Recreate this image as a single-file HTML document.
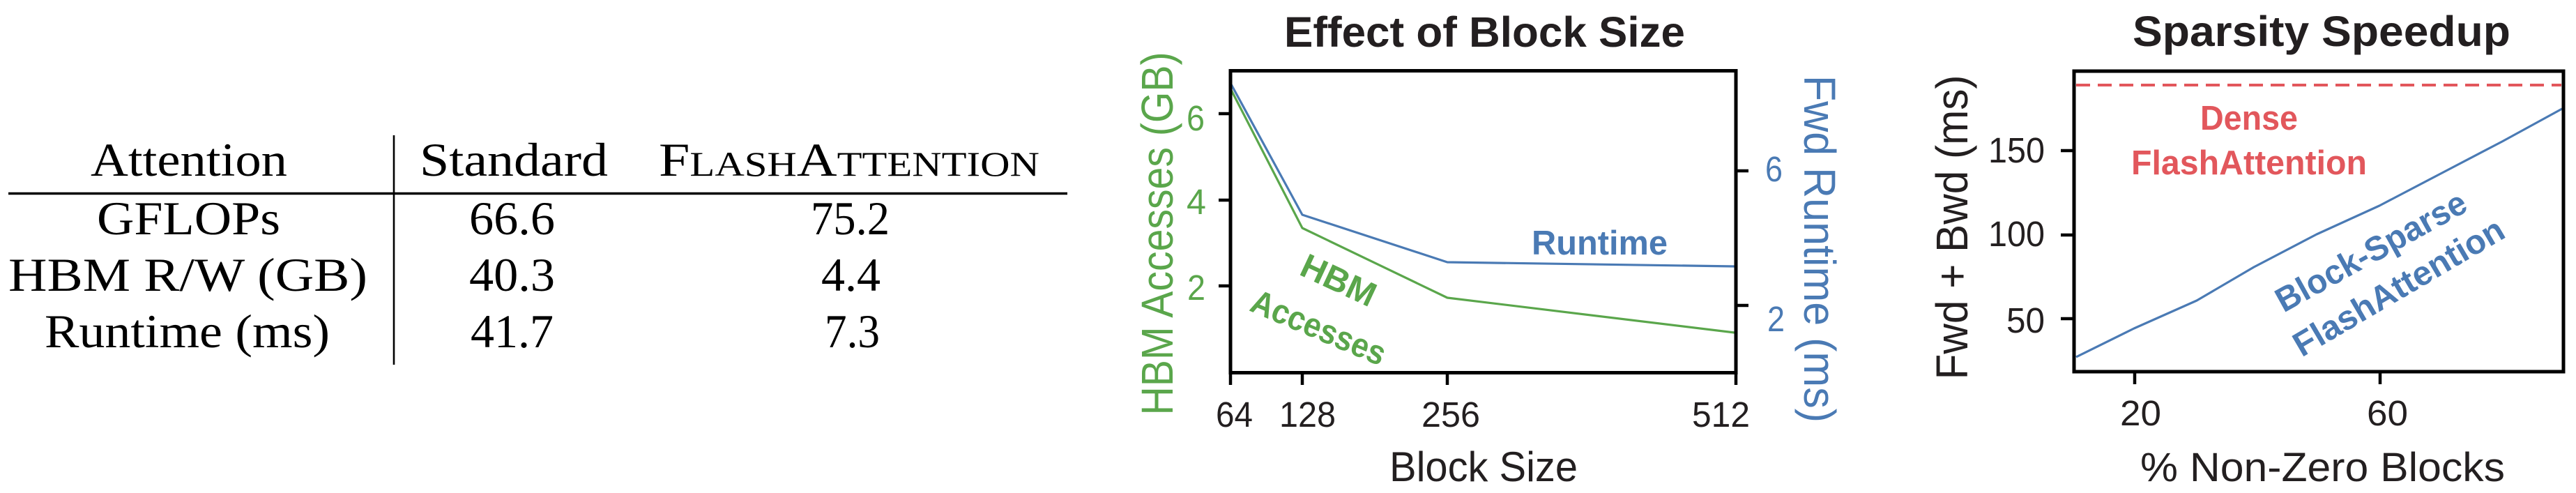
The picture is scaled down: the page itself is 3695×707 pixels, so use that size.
<!DOCTYPE html>
<html>
<head>
<meta charset="utf-8">
<style>
html,body{margin:0;padding:0;background:#fff;}
svg{display:block;}
.serif{font-family:"Liberation Serif","DejaVu Serif",serif;fill:#000;}
.sans{font-family:"Liberation Sans","DejaVu Sans",sans-serif;}
</style>
</head>
<body>
<svg width="3695" height="707" viewBox="0 0 3695 707" xmlns="http://www.w3.org/2000/svg">
<rect x="0" y="0" width="3695" height="707" fill="#fff"/>

<!-- ===== TABLE ===== -->
<g class="serif" font-size="68">
  <text x="130" y="252" textLength="282" lengthAdjust="spacingAndGlyphs">Attention</text>
  <text x="602" y="252" textLength="270" lengthAdjust="spacingAndGlyphs">Standard</text>
  <text x="945" y="252" textLength="546" lengthAdjust="spacingAndGlyphs">F<tspan font-size="50">LASH</tspan>A<tspan font-size="50">TTENTION</tspan></text>

  <text x="139" y="336" textLength="263" lengthAdjust="spacingAndGlyphs">GFLOPs</text>
  <text x="12" y="417" textLength="515" lengthAdjust="spacingAndGlyphs">HBM R/W (GB)</text>
  <text x="64" y="498" textLength="409" lengthAdjust="spacingAndGlyphs">Runtime (ms)</text>

  <text x="673" y="336" textLength="123" lengthAdjust="spacingAndGlyphs">66.6</text>
  <text x="673" y="417" textLength="123" lengthAdjust="spacingAndGlyphs">40.3</text>
  <text x="675" y="498" textLength="119" lengthAdjust="spacingAndGlyphs">41.7</text>

  <text x="1163" y="336" textLength="113" lengthAdjust="spacingAndGlyphs">75.2</text>
  <text x="1178" y="417" textLength="85" lengthAdjust="spacingAndGlyphs">4.4</text>
  <text x="1183" y="498" textLength="79" lengthAdjust="spacingAndGlyphs">7.3</text>
</g>
<line x1="12" y1="277.5" x2="1531" y2="277.5" stroke="#000" stroke-width="3.4"/>
<line x1="565" y1="194" x2="565" y2="523" stroke="#000" stroke-width="2.6"/>

<!-- ===== MIDDLE CHART: Effect of Block Size ===== -->
<g class="sans">
  <text x="1842" y="67" font-size="61" font-weight="bold" fill="#231f20" textLength="575" lengthAdjust="spacingAndGlyphs">Effect of Block Size</text>

  <polyline points="1766,129 1868,327 2076,427 2488,477" fill="none" stroke="#5aa64b" stroke-width="3.2" stroke-linejoin="round"/>
  <polyline points="1766,121 1868,308 2076,376 2488,382" fill="none" stroke="#4a7ab4" stroke-width="3.2" stroke-linejoin="round"/>

  <rect x="1765" y="101.5" width="725" height="433" fill="none" stroke="#000" stroke-width="5"/>
  <g stroke="#000" stroke-width="4.5">
    <line x1="1748" y1="163" x2="1765" y2="163"/>
    <line x1="1748" y1="287" x2="1765" y2="287"/>
    <line x1="1748" y1="410" x2="1765" y2="410"/>
    <line x1="2490" y1="245" x2="2508" y2="245"/>
    <line x1="2490" y1="438" x2="2508" y2="438"/>
    <line x1="1765" y1="534" x2="1765" y2="552"/>
    <line x1="1868" y1="534" x2="1868" y2="552"/>
    <line x1="2076" y1="534" x2="2076" y2="552"/>
    <line x1="2490" y1="534" x2="2490" y2="552"/>
  </g>
  <g font-size="51" fill="#5aa64b">
    <text x="1702" y="187" textLength="26" lengthAdjust="spacingAndGlyphs">6</text>
    <text x="1702" y="307" textLength="28" lengthAdjust="spacingAndGlyphs">4</text>
    <text x="1703" y="430" textLength="26" lengthAdjust="spacingAndGlyphs">2</text>
  </g>
  <g font-size="51" fill="#4a7ab4">
    <text x="2532" y="260" textLength="25" lengthAdjust="spacingAndGlyphs">6</text>
    <text x="2535" y="475" textLength="25" lengthAdjust="spacingAndGlyphs">2</text>
  </g>
  <g font-size="51" fill="#231f20">
    <text x="1744" y="612" textLength="53" lengthAdjust="spacingAndGlyphs">64</text>
    <text x="1835" y="612" textLength="81" lengthAdjust="spacingAndGlyphs">128</text>
    <text x="2039" y="612" textLength="84" lengthAdjust="spacingAndGlyphs">256</text>
    <text x="2427" y="612" textLength="83" lengthAdjust="spacingAndGlyphs">512</text>
  </g>
  <text x="1993" y="690" font-size="60" fill="#231f20" textLength="270" lengthAdjust="spacingAndGlyphs">Block Size</text>

  <text transform="translate(1682,335) rotate(-90)" text-anchor="middle" font-size="64" fill="#5aa64b" textLength="521" lengthAdjust="spacingAndGlyphs">HBM Accesses (GB)</text>
  <text transform="translate(2588,357) rotate(90)" text-anchor="middle" font-size="64" fill="#4a7ab4" textLength="498" lengthAdjust="spacingAndGlyphs">Fwd Runtime (ms)</text>

  <text x="2197" y="365" font-size="49" font-weight="bold" fill="#4a7ab4" textLength="195" lengthAdjust="spacingAndGlyphs">Runtime</text>
  <text transform="translate(1913,417) rotate(25)" text-anchor="middle" font-size="49" font-weight="bold" fill="#5aa64b" textLength="113" lengthAdjust="spacingAndGlyphs">HBM</text>
  <text transform="translate(1885,485) rotate(23)" text-anchor="middle" font-size="49" font-weight="bold" fill="#5aa64b" textLength="205" lengthAdjust="spacingAndGlyphs">Accesses</text>
</g>

<!-- ===== RIGHT CHART: Sparsity Speedup ===== -->
<g class="sans">
  <text x="3059" y="66" font-size="61" font-weight="bold" fill="#231f20" textLength="542" lengthAdjust="spacingAndGlyphs">Sparsity Speedup</text>

  <line x1="2978" y1="122" x2="3674" y2="122" stroke="#e2575c" stroke-width="4" stroke-dasharray="20 11"/>
  <polyline points="2978,512 3061,471 3151,431 3233,383 3323,336 3413,295 3499,250 3589,203 3675,156" fill="none" stroke="#4a7ab4" stroke-width="3.2" stroke-linejoin="round"/>

  <rect x="2975" y="102" width="702" height="431" fill="none" stroke="#000" stroke-width="5"/>
  <g stroke="#000" stroke-width="4.5">
    <line x1="2956" y1="216" x2="2975" y2="216"/>
    <line x1="2956" y1="337" x2="2975" y2="337"/>
    <line x1="2956" y1="457" x2="2975" y2="457"/>
    <line x1="3062" y1="532" x2="3062" y2="551"/>
    <line x1="3414" y1="532" x2="3414" y2="551"/>
  </g>
  <g font-size="51" fill="#231f20">
    <text x="2852" y="233" textLength="81" lengthAdjust="spacingAndGlyphs">150</text>
    <text x="2852" y="353" textLength="81" lengthAdjust="spacingAndGlyphs">100</text>
    <text x="2878" y="477" textLength="55" lengthAdjust="spacingAndGlyphs">50</text>
  </g>
  <g font-size="51" fill="#231f20">
    <text x="3041" y="610" textLength="59" lengthAdjust="spacingAndGlyphs">20</text>
    <text x="3395" y="610" textLength="59" lengthAdjust="spacingAndGlyphs">60</text>
  </g>
  <text x="3070" y="690" font-size="58" fill="#231f20" textLength="523" lengthAdjust="spacingAndGlyphs">% Non-Zero Blocks</text>
  <text transform="translate(2822,326) rotate(-90)" text-anchor="middle" font-size="64" fill="#231f20" textLength="437" lengthAdjust="spacingAndGlyphs">Fwd + Bwd (ms)</text>

  <text x="3156" y="186" font-size="49" font-weight="bold" fill="#e2575c" textLength="140" lengthAdjust="spacingAndGlyphs">Dense</text>
  <text x="3057" y="250" font-size="49" font-weight="bold" fill="#e2575c" textLength="338" lengthAdjust="spacingAndGlyphs">FlashAttention</text>

  <text transform="translate(3409,375) rotate(-29)" text-anchor="middle" font-size="49" font-weight="bold" fill="#4a7ab4" textLength="305" lengthAdjust="spacingAndGlyphs">Block-Sparse</text>
  <text transform="translate(3449,426) rotate(-30.5)" text-anchor="middle" font-size="49" font-weight="bold" fill="#4a7ab4" textLength="342" lengthAdjust="spacingAndGlyphs">FlashAttention</text>
</g>
</svg>
</body>
</html>
